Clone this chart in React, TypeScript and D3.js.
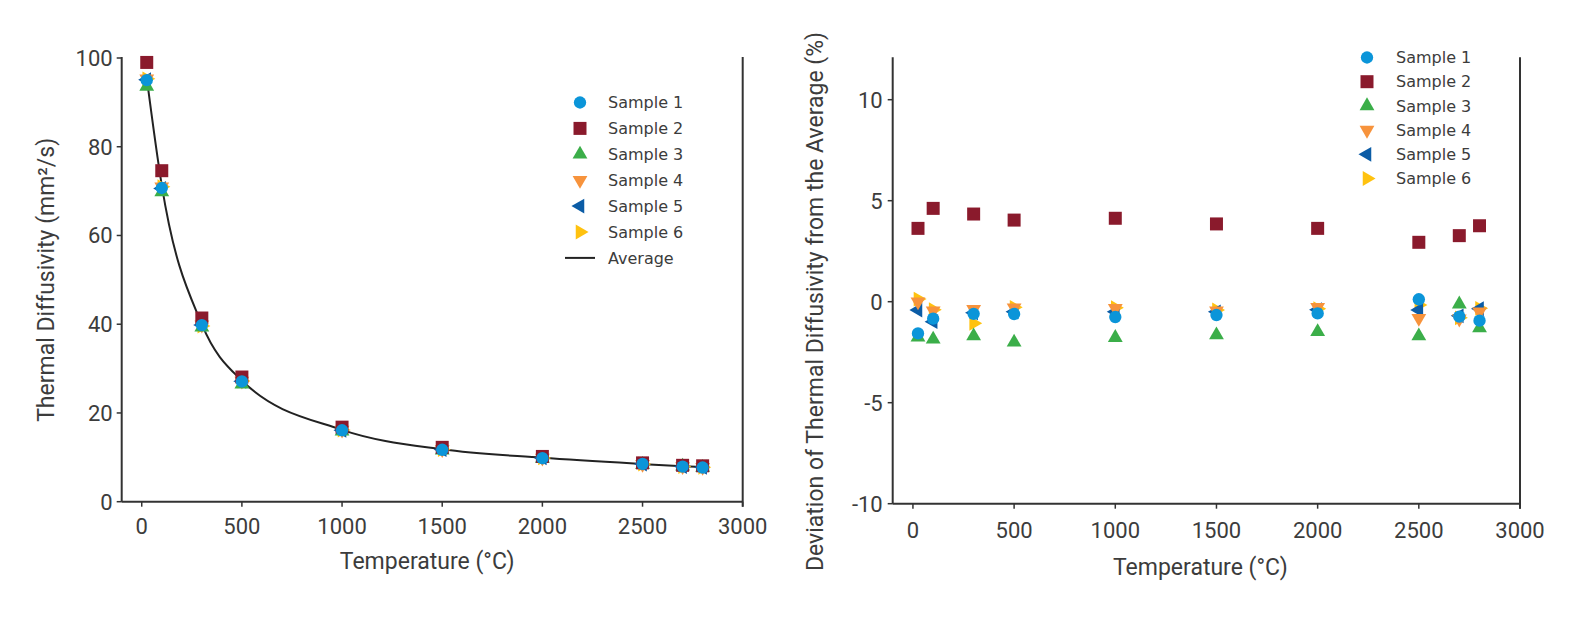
import React from 'react';
import * as d3 from 'd3';

// ---------- data ----------
const temps = [25, 100, 300, 500, 1000, 1500, 2000, 2500, 2700, 2800];
const average = [95.5, 71.3, 40.0, 27.3, 16.2, 11.8, 9.9, 8.5, 8.0, 7.8];

const diff1 = [95.0, 70.7, 39.8, 27.1, 16.1, 11.7, 9.8, 8.5, 7.9, 7.7];
const diff2 = [99.0, 74.6, 41.4, 28.1, 16.8, 12.25, 10.2, 8.75, 8.2, 8.09];
const diff3 = [93.6, 69.8, 39.3, 26.5, 15.9, 11.6, 9.75, 8.36, 7.99, 7.7];
const diff4 = [95.3, 71.0, 39.85, 27.2, 16.15, 11.75, 9.87, 8.43, 7.93, 7.76];
const diff5 = [95.1, 70.6, 39.8, 27.15, 16.1, 11.75, 9.86, 8.47, 7.94, 7.77];
const diff6 = [95.3, 71.0, 39.6, 27.2, 16.15, 11.75, 9.87, 8.49, 7.94, 7.77];

const dev1 = [-1.57, -0.84, -0.6, -0.61, -0.76, -0.66, -0.58, 0.12, -0.74, -0.94];
const dev2 = [3.63, 4.62, 4.34, 4.04, 4.13, 3.85, 3.63, 2.94, 3.27, 3.76];
const dev3 = [-1.76, -1.86, -1.7, -2.01, -1.78, -1.65, -1.49, -1.7, -0.12, -1.3];
const dev4 = [0.0, -0.45, -0.38, -0.3, -0.33, -0.45, -0.28, -0.82, -0.85, -0.5];
const dev5 = [-0.41, -0.99, -0.55, -0.5, -0.5, -0.5, -0.4, -0.41, -0.7, -0.35];
const dev6 = [0.13, -0.4, -1.07, -0.28, -0.3, -0.41, -0.35, -0.16, -0.8, -0.33];

const sampleNames = ['Sample 1', 'Sample 2', 'Sample 3', 'Sample 4', 'Sample 5', 'Sample 6'];
const averageName = 'Average';
const xTicks = [0, 500, 1000, 1500, 2000, 2500, 3000];
const leftYTicks = [0, 20, 40, 60, 80, 100];
const rightYTicks = [-10, -5, 0, 5, 10];

const leftXTitle = 'Temperature (°C)';
const leftYTitle = 'Thermal Diffusivity (mm²/s)';
const rightXTitle = 'Temperature (°C)';
const rightYTitle = 'Deviation of Thermal Diffusivity from the Average (%)';

// ---------- styles ----------
const colors = ['#0b95d9', '#8a1a2c', '#3bae49', '#f7933c', '#0b5ca6', '#ffc20f'];
const axisColor = '#333333';
const textColor = '#3c3c3c';
const tickFont = 'Roboto, sans-serif';
const legendFont = '"DejaVu Sans", sans-serif';

const symbolPath = (i: number): { d: string; rot: number } => {
  if (i === 0) return { d: d3.symbol().type(d3.symbolCircle).size(120)() as string, rot: 0 };
  if (i === 1) return { d: d3.symbol().type(d3.symbolSquare).size(169)() as string, rot: 0 };
  const tri = d3.symbol().type(d3.symbolTriangle).size(95)() as string;
  const rot = i === 2 ? 0 : i === 3 ? 180 : i === 4 ? -90 : 90;
  return { d: tri, rot };
};

const Marker = ({ i, x, y }: { i: number; x: number; y: number }) => {
  const s = symbolPath(i);
  return <path d={s.d} transform={`translate(${x},${y}) rotate(${s.rot})`} fill={colors[i]} />;
};

const drawOrder = [5, 4, 3, 2, 1, 0];

function LeftChart() {
  const x = d3.scaleLinear().domain([-100, 3000]).range([121.7, 742.7]);
  const y = d3.scaleLinear().domain([0, 100]).range([501.7, 58]);
  const series = [diff1, diff2, diff3, diff4, diff5, diff6];
  const line = d3
    .line<number>()
    .x((_, k) => x(temps[k]))
    .y((d) => y(d))
    .curve(d3.curveMonotoneX);
  const [x0, x1] = x.range();
  const [yb, yt] = y.range();
  return (
    <g>
      <line x1={x0} x2={x0} y1={yt - 1} y2={yb} stroke={axisColor} strokeWidth={2} />
      <line x1={x0} x2={x1} y1={yb} y2={yb} stroke={axisColor} strokeWidth={2} />
      <line x1={x1} x2={x1} y1={yt - 1} y2={yb + 5} stroke={axisColor} strokeWidth={2} />
      {xTicks.map((t) => (
        <g key={t}>
          <line x1={x(t)} x2={x(t)} y1={yb} y2={yb + 5} stroke={axisColor} strokeWidth={1.5} />
          <text x={x(t)} y={yb + 32} textAnchor="middle" fontFamily={tickFont} fontSize={22} fill={textColor}>
            {t}
          </text>
        </g>
      ))}
      {leftYTicks.map((t) => (
        <g key={t}>
          <line x1={x0 - 5} x2={x0} y1={y(t)} y2={y(t)} stroke={axisColor} strokeWidth={1.5} />
          <text x={x0 - 9} y={y(t)} dy="0.36em" textAnchor="end" fontFamily={tickFont} fontSize={22} fill={textColor}>
            {t}
          </text>
        </g>
      ))}
      <text x={(x0 + x1) / 2 - 5} y={569} textAnchor="middle" fontFamily={tickFont} fontSize={23} fill={textColor}>
        {leftXTitle}
      </text>
      <text
        transform={`translate(54,${(yb + yt) / 2}) rotate(-90)`}
        textAnchor="middle"
        fontFamily={tickFont}
        fontSize={23}
        fill={textColor}
      >
        {leftYTitle}
      </text>
      <path d={line(average) as string} fill="none" stroke="#222" strokeWidth={2} />
      {drawOrder.map((i) =>
        series[i].map((v, k) => <Marker key={`${i}-${k}`} i={i} x={x(temps[k])} y={y(v)} />)
      )}
      {sampleNames.map((n, i) => (
        <g key={n}>
          <Marker i={i} x={580} y={102.5 + i * 25.9} />
          <text x={608} y={102.5 + i * 25.9} dy="0.36em" fontFamily={legendFont} fontSize={16} fill={textColor}>
            {n}
          </text>
        </g>
      ))}
      <line x1={565} x2={595} y1={102.5 + 6 * 25.9} y2={102.5 + 6 * 25.9} stroke="#222" strokeWidth={2} />
      <text x={608} y={102.5 + 6 * 25.9} dy="0.36em" fontFamily={legendFont} fontSize={16} fill={textColor}>
        {averageName}
      </text>
    </g>
  );
}

function RightChart() {
  const x = d3.scaleLinear().domain([-100, 3000]).range([892.7, 1520]);
  const y = d3.scaleLinear().domain([-10, 12]).range([503.7, 59.3]);
  const series = [dev1, dev2, dev3, dev4, dev5, dev6];
  const [x0, x1] = x.range();
  const [yb, yt] = y.range();
  return (
    <g>
      <line x1={x0} x2={x0} y1={yt - 2} y2={yb} stroke={axisColor} strokeWidth={2} />
      <line x1={x0} x2={x1} y1={yb} y2={yb} stroke={axisColor} strokeWidth={2} />
      <line x1={x1} x2={x1} y1={yt - 2} y2={yb + 5} stroke={axisColor} strokeWidth={2} />
      {xTicks.map((t) => (
        <g key={t}>
          <line x1={x(t)} x2={x(t)} y1={yb} y2={yb + 5} stroke={axisColor} strokeWidth={1.5} />
          <text x={x(t)} y={yb + 34} textAnchor="middle" fontFamily={tickFont} fontSize={22} fill={textColor}>
            {t}
          </text>
        </g>
      ))}
      {rightYTicks.map((t) => (
        <g key={t}>
          <line x1={x0 - 5} x2={x0} y1={y(t)} y2={y(t)} stroke={axisColor} strokeWidth={1.5} />
          <text x={x0 - 10} y={y(t)} dy="0.36em" textAnchor="end" fontFamily={tickFont} fontSize={22} fill={textColor}>
            {t}
          </text>
        </g>
      ))}
      <text x={(x0 + x1) / 2 - 6} y={575} textAnchor="middle" fontFamily={tickFont} fontSize={23} fill={textColor}>
        {rightXTitle}
      </text>
      <text
        transform={`translate(823,${(yb + yt) / 2 + 20}) rotate(-90)`}
        textAnchor="middle"
        fontFamily={tickFont}
        fontSize={23}
        fill={textColor}
      >
        {rightYTitle}
      </text>
      {drawOrder.map((i) =>
        series[i].map((v, k) => <Marker key={`${i}-${k}`} i={i} x={x(temps[k])} y={y(v)} />)
      )}
      {sampleNames.map((n, i) => (
        <g key={n}>
          <Marker i={i} x={1367} y={57.5 + i * 24.2} />
          <text x={1396} y={57.5 + i * 24.2} dy="0.36em" fontFamily={legendFont} fontSize={16} fill={textColor}>
            {n}
          </text>
        </g>
      ))}
    </g>
  );
}

export default function App() {
  return (
    <div style={{ position: 'absolute', left: 0, top: 0 }}>
      <svg width={1575} height={618} style={{ display: 'block', background: '#fff' }}>
        <LeftChart />
        <RightChart />
      </svg>
    </div>
  );
}
